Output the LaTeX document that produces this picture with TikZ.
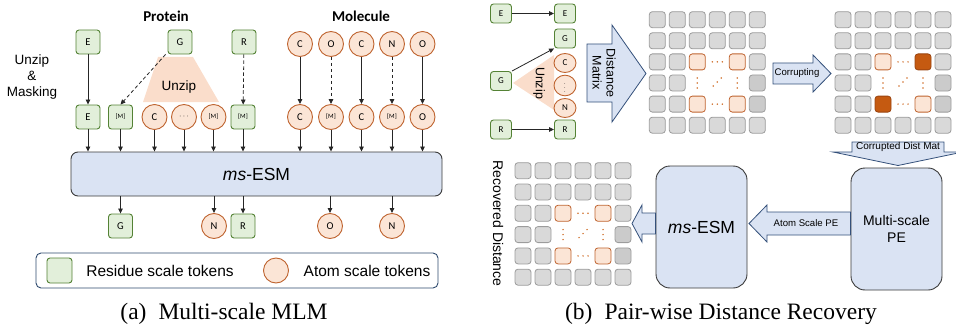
\documentclass[tikz,border=0pt]{standalone}
\usepackage{fontspec}
\setmainfont{Liberation Sans}
\newfontfamily\serifcap{Liberation Serif}
\newfontfamily\calib{Carlito}
\usetikzlibrary{arrows.meta,shapes.geometric,calc}

\definecolor{resfill}{HTML}{E2EFDA}
\definecolor{resdraw}{HTML}{548235}
\definecolor{atomfill}{HTML}{FBE5D6}
\definecolor{atomdraw}{HTML}{BF6430}
\definecolor{unzipfill}{HTML}{FADDCB}
\definecolor{bluefill}{HTML}{DAE3F3}
\definecolor{bluedraw}{HTML}{34507A}
\definecolor{boxdraw}{HTML}{3A3A3A}
\definecolor{legdraw}{HTML}{2E4A6E}
\definecolor{gfill}{HTML}{D9D9D9}
\definecolor{gdarkfill}{HTML}{CBCBCB}
\definecolor{gdraw}{HTML}{9C9C9C}
\definecolor{corrfill}{HTML}{C55A11}
\definecolor{corrdraw}{HTML}{9A4410}
\definecolor{dotc}{HTML}{D0702C}

\newcommand\fs[2]{\fontsize{#1}{#2}\selectfont}

% 6x6 distance matrix: #1 name prefix, #2 x of first column, #3 y of first row,
% #4 row step, #5 style of the two off-diagonal highlighted cells
\newcommand\distgrid[5]{%
  \foreach \r in {0,1,5}{\foreach \c in {0,...,5}{%
    \node[gcell] (#1-\r-\c) at ({#2+20*\c},{#3+#4*\r}) {};}}
  \foreach \r in {2,3,4}{\foreach \c in {0,1}{%
    \node[gcell] (#1-\r-\c) at ({#2+20*\c},{#3+#4*\r}) {};}}
  \node[gcell] (#1-2-5) at ({#2+100},{#3+2*#4}) {};
  \node[gdark] (#1-3-5) at ({#2+100},{#3+3*#4}) {};
  \node[gdark] (#1-4-5) at ({#2+100},{#3+4*#4}) {};
  \node[pcell] (#1-2-2) at ({#2+40},{#3+2*#4}) {};
  \node[#5]    (#1-2-4) at ({#2+80},{#3+2*#4}) {};
  \node[#5]    (#1-4-2) at ({#2+40},{#3+4*#4}) {};
  \node[pcell] (#1-4-4) at ({#2+80},{#3+4*#4}) {};
  \foreach \d in {-5,0,5}{%
    \fill[dotc] ({#2+60+\d},{#3+2*#4}) circle (0.85pt);
    \fill[dotc] ({#2+60+\d},{#3+4*#4}) circle (0.85pt);
    \fill[dotc] ({#2+40},{#3+3*#4+\d}) circle (0.85pt);
    \fill[dotc] ({#2+80},{#3+3*#4+\d}) circle (0.85pt);
    \fill[dotc] ({#2+60+0.8*\d},{#3+3*#4-1-0.8*\d}) circle (0.85pt);
  }%
}

\tikzset{
  rtok/.style={rectangle, rounded corners=3pt, fill=resfill, draw=resdraw, line width=0.9pt,
    minimum size=24pt, inner sep=0pt, font=\calib\fs{10.5}{12}},
  atok/.style={circle, fill=atomfill, draw=atomdraw, line width=0.9pt,
    minimum size=25pt, inner sep=0pt, font=\calib\fs{10.5}{12}},
  rtoks/.style={rtok, minimum width=21pt, minimum height=19pt, font=\calib\fs{9}{11}},
  atoks/.style={ellipse, fill=atomfill, draw=atomdraw, line width=0.9pt,
    minimum width=22pt, minimum height=19pt, inner sep=0pt, font=\calib\fs{9}{11}},
  mk/.style={font=\calib\fs{6.5}{8}},
  arr/.style={draw=black!85, line width=0.8pt, -{Triangle[length=5pt,width=4.5pt]}},
  dsh/.style={dash pattern=on 3.5pt off 2.5pt},
  gcell/.style={rectangle, rounded corners=3pt, fill=gfill, draw=gdraw, line width=0.8pt,
    minimum size=16pt, inner sep=0pt},
  gdark/.style={gcell, fill=gdarkfill},
  pcell/.style={gcell, fill=atomfill, draw=atomdraw},
  ccell/.style={gcell, fill=corrfill, draw=corrdraw},
  blockarrow/.style={fill=bluefill, draw=bluedraw, line width=0.8pt, line join=miter},
  bigbox/.style={rectangle, fill=bluefill, draw=boxdraw, line width=0.9pt, inner sep=0pt},
}

\begin{document}
\begin{tikzpicture}[x=1pt, y=-1pt]
\useasboundingbox (0,0) rectangle (956,329);

%% ---------- (a) multi-scale MLM ----------
\node[font=\calib\bfseries\fs{15}{18}] (protein) at (166,16) {Protein};
\node[font=\calib\bfseries\fs{15}{18}] (molecule) at (361,16) {Molecule};
\node[font=\fs{13.5}{16}, align=center] (unzipmask) at (32,77) {Unzip\\\&\\Masking};

% unzip trapezoid
\fill[unzipfill] (158,57) -- (193,57) -- (219,102) -- (143,102) -- cycle;
\node[font=\fs{13.5}{16}] (unzipa) at (179,87) {Unzip};

% input tokens
\node[rtok] (tE) at (88,42) {E};
\node[rtok] (tG) at (180,42) {G};
\node[rtok] (tR) at (244,42) {R};
\node[atok] (mC1) at (300,44) {C};
\node[atok] (mO1) at (331,44) {O};
\node[atok] (mC2) at (361.5,44) {C};
\node[atok] (mN1) at (392,44) {N};
\node[atok] (mO2) at (422.5,44) {O};

% unzipped and masked tokens
\node[rtok] (bE) at (88,117) {E};
\node[rtok, mk] (bM1) at (120.5,117) {[M]};
\node[atok] (bC) at (154.5,117) {C};
\node[atok, font=\fs{8}{10}] (bD) at (184,117) {$\cdots$};
\node[atok, mk] (bM2) at (213.5,117) {[M]};
\node[rtok, mk] (bM3) at (243,117) {[M]};
\node[atok] (nC1) at (300,117) {C};
\node[atok, mk] (nM1) at (331,117) {[M]};
\node[atok] (nC2) at (361.5,117) {C};
\node[atok, mk] (nM2) at (392,117) {[M]};
\node[atok] (nO) at (422.5,117) {O};

\draw[arr] (tE) -- (bE);
\draw[arr, dsh] ([xshift=-2pt]tG.south west) -- (bM1.north);
\draw[arr, dsh] (tR) -- (bM3);
\draw[arr] (mC1) -- (nC1);
\draw[arr, dsh] (mO1) -- (nM1);
\draw[arr] (mC2) -- (nC2);
\draw[arr, dsh] (mN1) -- (nM2);
\draw[arr] (mO2) -- (nO);

% encoder
\node[bigbox, rounded corners=7pt, minimum width=371pt, minimum height=44pt,
      font=\fs{17.5}{20}] (esm) at (256.5,174) {\textit{ms}-ESM};

\foreach \n in {bE,bM1,bC,bD,bM2,bM3,nC1,nM1,nC2,nM2,nO}
  \draw[arr] (\n.south) -- (\n.south |- esm.north);

% predictions
\node[rtok] (oG) at (120.5,226) {G};
\node[atok] (oN1) at (214,226) {N};
\node[rtok] (oR) at (243,226) {R};
\node[atok] (oO) at (330,226) {O};
\node[atok] (oN2) at (392,226) {N};
\foreach \n in {oG,oN1,oR,oO,oN2}
  \draw[arr] (esm.south -| \n.north) -- (\n.north);

% legend
\node[rectangle, rounded corners=5pt, draw=legdraw, line width=0.9pt, fill=white,
      minimum width=402pt, minimum height=35pt] (legend) at (237,270.5) {};
\node[rtok, minimum size=25pt] (legres) at (59.5,270.5) {};
\node[font=\fs{15.5}{18}] (legrestxt) at (160,270.5) {Residue scale tokens};
\node[atok] (legatom) at (276,270.5) {};
\node[font=\fs{15.5}{18}] (legatomtxt) at (367,270.5) {Atom scale tokens};

\node[font=\serifcap\fs{23.5}{26}] (capa) at (224,314) {(a)\hspace{12pt}Multi-scale MLM};

%% ---------- (b) pair-wise distance recovery ----------
\fill[unzipfill] (513,83) -- (554,55) -- (554,110) -- cycle;
\node[font=\fs{12.5}{15}, rotate=-90] (unzipb) at (539,83) {Unzip};

\node[rtoks] (sE1) at (501,13.5) {E};
\node[rtoks] (sE2) at (565,13.5) {E};
\node[rtoks] (sG2) at (565,38.5) {G};
\node[rtoks] (sG1) at (501,81) {G};
\node[rtoks] (sR1) at (501,129.5) {R};
\node[rtoks] (sR2) at (565,129.5) {R};
\node[atoks] (sC) at (565,63) {C};
\node[atoks, font=\fs{5.5}{6}] (sD) at (565,85.5) {$\vdots$};
\node[atoks] (sN) at (565,108) {N};

\draw[arr] (sE1) -- (sE2);
\draw[arr] (sR1) -- (sR2);
\draw[arr] (sG1.north east) -- (sG2.south west);

% distance matrix arrow
\draw[blockarrow] (587,44) -- (612,44) -- (612,25) -- (646,73.5) -- (612,122) -- (612,102) -- (587,102) -- cycle;
\node[font=\fs{12.5}{14}, align=center, rotate=-90] (distlbl) at (604,73) {Distance\\Matrix};

\distgrid{dm}{657.3}{19.7}{21.1}{pcell}

% corrupting arrow
\draw[blockarrow] (773,63) -- (813,63) -- (813,55) -- (831,73.5) -- (813,92) -- (813,84) -- (773,84) -- cycle;
\node[font=\fs{9.6}{11}] (corrlbl) at (797,73) {Corrupting};

\distgrid{cm}{843}{19.7}{21.1}{ccell}

% corrupted matrix to positional encoding
\draw[blockarrow] (852,142) -- (944,142) -- (944,152) -- (963,152) -- (898,165.5) -- (833,152) -- (852,152) -- cycle;
\node[font=\fs{10}{12}] (cdmlbl) at (898,147) {Corrupted Dist Mat};

\node[bigbox, rounded corners=14pt, minimum width=91pt, minimum height=122pt,
      font=\fs{14}{17}, align=center] (mspe) at (896.5,229) {Multi-scale\\PE};
\node[bigbox, rounded corners=14pt, minimum width=91pt, minimum height=122pt,
      font=\fs{17.5}{20}] (esmb) at (701.5,227) {\textit{ms}-ESM};

% atom scale PE arrow
\draw[blockarrow] (mspe.west |- 0,212) -- (767,212) -- (767,205) -- (749,223.5) -- (767,242) -- (767,235) -- (mspe.west |- 0,235) -- cycle;
\node[font=\fs{9.6}{11}] (apelbl) at (806,223.5) {Atom Scale PE};

% recovery arrow
\draw[blockarrow] (esmb.west |- 0,213) -- (642,213) -- (642,205) -- (632,223.5) -- (642,242) -- (642,234) -- (esmb.west |- 0,234) -- cycle;

\distgrid{rm}{523}{170.7}{21.3}{pcell}
\node[font=\fs{14}{16}, rotate=-90] (reclbl) at (498,223.5) {Recovered Distance};

\node[font=\serifcap\fs{23.5}{26}] (capb) at (721,314) {(b)\hspace{12pt}Pair-wise Distance Recovery};
\end{tikzpicture}
\end{document}
